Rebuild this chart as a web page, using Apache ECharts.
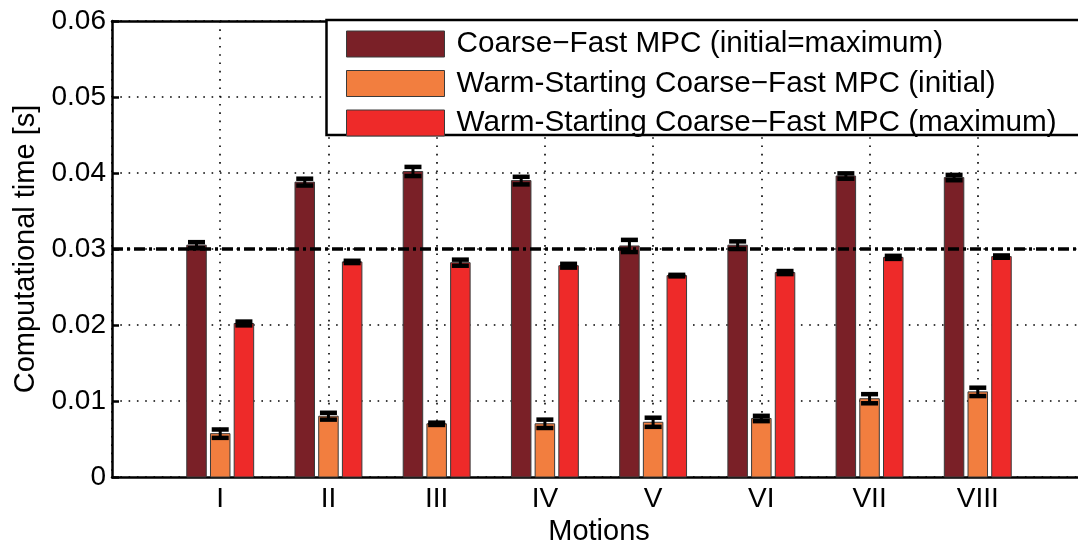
<!DOCTYPE html>
<html>
<head>
<meta charset="utf-8">
<script src="https://cdn.jsdelivr.net/npm/echarts@6/dist/echarts.min.js"></script>
<style>
  html, body { margin: 0; padding: 0; background: #fff; }
  #chart { width: 1078px; height: 545px; }
</style>
</head>
<body>
<div id="chart"></div>
<script>
// motions on the x axis
const categories = ['I', 'II', 'III', 'IV', 'V', 'VI', 'VII', 'VIII'];

// Coarse-Fast MPC (initial=maximum)
const coarseFast = [0.0305, 0.0388, 0.0402, 0.0390, 0.0304, 0.0305, 0.0396, 0.0394];
const coarseFastErr = [0.0004, 0.00045, 0.0006, 0.0005, 0.0008, 0.0005, 0.00035, 0.00035];

// Warm-Starting Coarse-Fast MPC (initial)
const warmInitial = [0.0057, 0.0080, 0.0070, 0.0070, 0.0072, 0.0077, 0.0103, 0.0112];
const warmInitialErr = [0.00055, 0.00045, 0.00015, 0.00055, 0.0006, 0.00035, 0.0006, 0.00055];

// Warm-Starting Coarse-Fast MPC (maximum)
const warmMax = [0.0202, 0.0283, 0.0282, 0.0278, 0.0265, 0.0269, 0.0289, 0.0290];
const warmMaxErr = [0.00025, 0.00015, 0.0004, 0.00025, 0.0001, 0.0002, 0.0002, 0.00015];

const yTicks = [0, 0.01, 0.02, 0.03, 0.04, 0.05, 0.06];
const limitLine = 0.03;

const seriesNames = [
    'Coarse\u2212Fast MPC (initial=maximum)',
    'Warm-Starting Coarse\u2212Fast MPC (initial)',
    'Warm-Starting Coarse\u2212Fast MPC (maximum)'
];
const colors = ['#7a2027', '#f27e3f', '#ee2a29'];

const FONT = 'Liberation Sans, Arial, Helvetica, sans-serif';
const BAR_W = 19.5;
const OFFSETS = [-23.7, 0, 23.7];

const chart = echarts.init(document.getElementById('chart'), null, {renderer: 'canvas'});

// bars drawn through the axes' coord conversion, with a fixed pixel offset per series
const barSeries = (name, values, idx) => ({
    name: name,
    type: 'custom',
    z: 3,
    itemStyle: {color: colors[idx]},
    encode: {x: 0, y: 1},
    data: values.map((v, i) => [i + 1, v]),
    renderItem: (params, api) => {
        const top = api.coord([api.value(0), api.value(1)]);
        const base = api.coord([api.value(0), 0]);
        return {
            type: 'rect',
            shape: {
                x: top[0] + OFFSETS[idx] - BAR_W / 2,
                y: top[1],
                width: BAR_W,
                height: base[1] - top[1]
            },
            style: {fill: colors[idx], stroke: '#3a3a3a', lineWidth: 1}
        };
    }
});

const errSeries = (name, values, errs, idx) => ({
    name: name + ' err',
    type: 'custom',
    z: 4,
    silent: true,
    encode: {x: 0, y: [1, 2, 3]},
    data: values.map((v, i) => [i + 1, v, v - errs[i], v + errs[i]]),
    renderItem: (params, api) => {
        const lo = api.coord([api.value(0), api.value(2)]);
        const hi = api.coord([api.value(0), api.value(3)]);
        const x = lo[0] + OFFSETS[idx];
        const cap = 8.5;
        const st = {stroke: '#000', lineWidth: 4.5};
        return {
            type: 'group',
            children: [
                {type: 'line', shape: {x1: x, y1: lo[1], x2: x, y2: hi[1]}, style: {stroke: '#000', lineWidth: 3}},
                {type: 'line', shape: {x1: x - cap, y1: lo[1], x2: x + cap, y2: lo[1]}, style: st},
                {type: 'line', shape: {x1: x - cap, y1: hi[1], x2: x + cap, y2: hi[1]}, style: st}
            ]
        };
    }
});

const dotted = {color: '#000', width: 1.6, type: [1.6, 6.7]};
const axisFrame = {color: '#000', width: 2.5};

const option = {
    animation: false,
    backgroundColor: '#fff',
    grid: {
        left: 112,
        right: -8,
        top: 21,
        bottom: 68,
        outerBoundsMode: 'none',
        containLabel: false,
        show: false
    },
    legend: {
        data: seriesNames,
        orient: 'vertical',
        left: 346,
        top: 29,
        padding: 0,
        itemWidth: 98,
        itemHeight: 26,
        itemGap: 9.5,
        icon: 'rect',
        selectedMode: false,
        itemStyle: {borderColor: '#3a3a3a', borderWidth: 1},
        textStyle: {
            fontFamily: FONT,
            fontSize: 29.7,
            color: '#000',
            lineHeight: 26,
            padding: [0, 0, 0, 7]
        },
        z: 10
    },
    graphic: [
        {
            type: 'rect',
            z: 9,
            shape: {x: 326.5, y: 20, width: 800, height: 115},
            style: {fill: '#fff', stroke: '#000', lineWidth: 2.5}
        }
    ],
    xAxis: [
        {
            type: 'value',
            min: 0,
            max: 9,
            interval: 1,
            name: 'Motions',
            nameLocation: 'middle',
            nameGap: 35,
            nameTextStyle: {fontFamily: FONT, fontSize: 29, color: '#000', verticalAlign: 'top'},
            axisLine: {show: true, onZero: false, lineStyle: axisFrame},
            axisTick: {show: false},
            axisLabel: {
                margin: 8,
                fontFamily: FONT,
                fontSize: 28,
                color: '#000',
                formatter: v => (v >= 1 && v <= categories.length) ? categories[v - 1] : ''
            },
            splitLine: {show: true, lineStyle: dotted}
        },
        {
            // top frame line of the axes box
            type: 'value',
            position: 'top',
            min: 0,
            max: 9,
            interval: 1,
            axisLine: {show: true, onZero: false, lineStyle: axisFrame},
            axisTick: {show: false},
            axisLabel: {show: false},
            splitLine: {show: false}
        }
    ],
    yAxis: {
        type: 'value',
        min: yTicks[0],
        max: yTicks[yTicks.length - 1],
        interval: 0.01,
        name: 'Computational time [s]',
        nameLocation: 'middle',
        nameGap: 72,
        nameTextStyle: {fontFamily: FONT, fontSize: 29, color: '#000'},
        axisLine: {show: true, lineStyle: axisFrame},
        axisTick: {show: true, inside: true, length: 7, lineStyle: {color: '#000', width: 2.5}},
        axisLabel: {
            margin: 6,
            fontFamily: FONT,
            fontSize: 28,
            color: '#000',
            formatter: v => (Math.abs(v) < 1e-9 ? '0' : v.toFixed(2))
        },
        splitLine: {show: true, lineStyle: dotted}
    },
    series: [
        barSeries(seriesNames[0], coarseFast, 0),
        barSeries(seriesNames[1], warmInitial, 1),
        barSeries(seriesNames[2], warmMax, 2),
        errSeries(seriesNames[0], coarseFast, coarseFastErr, 0),
        errSeries(seriesNames[1], warmInitial, warmInitialErr, 1),
        errSeries(seriesNames[2], warmMax, warmMaxErr, 2),
        {
            name: 'limit',
            type: 'line',
            z: 5,
            data: [],
            markLine: {
                silent: true,
                symbol: 'none',
                label: {show: false},
                lineStyle: {color: '#000', width: 3.5, type: [11, 4, 3, 4]},
                data: [{yAxis: limitLine}]
            }
        }
    ]
};

chart.setOption(option);
</script>
</body>
</html>
